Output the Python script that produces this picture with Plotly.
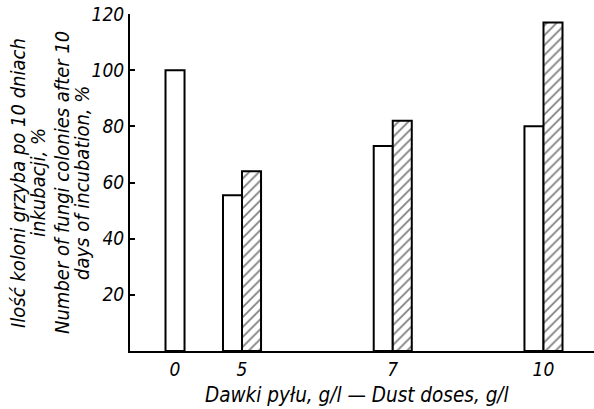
import plotly.graph_objects as go

# ---- data ----
doses = ["0", "5", "7", "10"]
control_values = [100, 55.5, 73, 80]          # open bars
treated_doses = ["5", "7", "10"]
treated_values = [64, 82, 117]                # hatched bars
y_ticks = [20, 40, 60, 80, 100, 120]
x_title = "Dawki pyłu, g/l — Dust doses, g/l"
y_title_pl = ["Ilość koloni grzyba po 10 dniach", "inkubacji, %"]
y_title_en = ["Number of fungi colonies after 10", "days of incubation, %"]

# ---- layout constants ----
slot = {"0": 0.0, "5": 1.0, "7": 3.25, "10": 5.5}
w = 0.284
FONT = "DejaVu Sans Condensed, Liberation Sans Narrow, Arial Narrow, sans-serif"
L, T, PW, PH = 130, 14, 464, 337

def px_x(p):
    return (p - L) / PW

def px_y(p):
    return (T + PH - p) / PH

ctrl_x = [slot[d] for d in doses]
ctrl_off = [-w / 2 if d == "0" else -w for d in doses]
trt_x = [slot[d] for d in treated_doses]

fig = go.Figure()
fig.add_trace(go.Bar(
    x=ctrl_x, y=control_values, width=w, offset=ctrl_off,
    marker=dict(color="white", line=dict(color="black", width=2)),
    showlegend=False, hoverinfo="skip",
))
fig.add_trace(go.Bar(
    x=trt_x, y=treated_values, width=w, offset=0,
    marker=dict(color="white", line=dict(color="black", width=2),
                pattern=dict(shape="/", fgcolor="black", bgcolor="white",
                             size=7, solidity=0.25)),
    showlegend=False, hoverinfo="skip",
))

annotations = [
    dict(text=x_title, xref="paper", yref="paper",
         x=px_x(357.5), y=px_y(395), xanchor="center", yanchor="middle",
         showarrow=False, font=dict(size=20.5)),
]
for line, cx in zip(y_title_pl + y_title_en, [18, 38, 62, 82]):
    annotations.append(dict(
        text=line, xref="paper", yref="paper", x=px_x(cx), y=px_y(183),
        xanchor="center", yanchor="middle", textangle=-90, showarrow=False,
        font=dict(size=20)))

fig.update_layout(
    width=594, height=409,
    margin=dict(l=L, r=0, t=T, b=409 - T - PH),
    paper_bgcolor="white", plot_bgcolor="white",
    font=dict(family=FONT, size=19, color="black", style="italic"),
    barmode="overlay",
    xaxis=dict(
        range=[-0.672, 6.254], showgrid=False, zeroline=False,
        showline=True, linecolor="black", linewidth=2,
        tickvals=[slot[d] for d in doses], ticktext=doses, ticks="",
        fixedrange=True,
    ),
    yaxis=dict(
        range=[0, 120], showgrid=False, zeroline=False,
        showline=True, linecolor="black", linewidth=2,
        tickvals=y_ticks, ticks="inside", ticklen=5, tickwidth=1.5,
        tickcolor="black", fixedrange=True,
    ),
    annotations=annotations,
)

fig.write_html("out.html", config={"displayModeBar": False},
               post_script="document.body.style.margin='0';")
